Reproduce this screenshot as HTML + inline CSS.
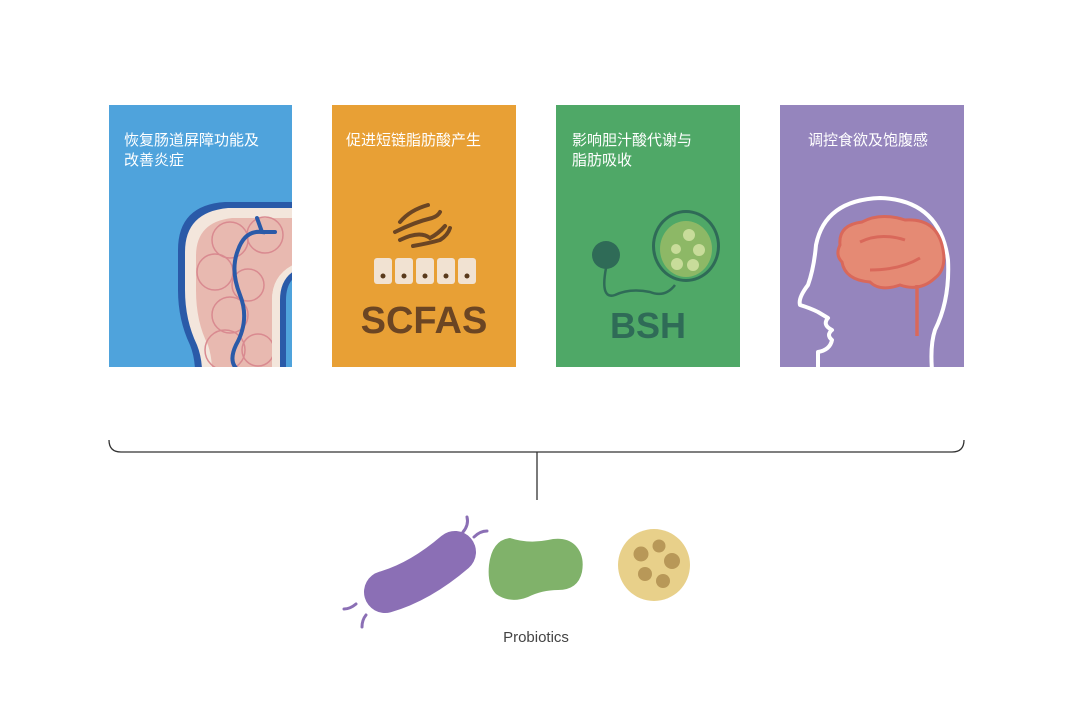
<!DOCTYPE html>
<html><head><meta charset="utf-8"><style>
body{margin:0;background:#fff;width:1080px;height:720px;overflow:hidden;font-family:"Liberation Sans","Noto Sans CJK SC",sans-serif}
svg{position:absolute;left:0;top:0}
</style></head><body>
<svg width="1080" height="720" viewBox="0 0 1080 720" xmlns="http://www.w3.org/2000/svg">
<defs>
<clipPath id="c1"><rect x="109" y="105" width="183" height="262"/></clipPath>
<clipPath id="c4"><rect x="780" y="105" width="184" height="262"/></clipPath>
</defs>
<!-- card 1 -->
<rect x="109" y="105" width="183" height="262" fill="#4fa3dc"/>
<g clip-path="url(#c1)">
<path d="M300 202 L225 202 Q178 205 178 250 L178 290 Q178 320 190 345 Q196 360 195 380 L300 380 Z" fill="#2a5aa8"/>
<path d="M300 208 L228 208 Q185 212 185 252 L185 290 Q185 320 197 345 Q203 360 202 380 L300 380 Z" fill="#f3e6dc"/>
<path d="M300 218 L232 218 Q196 222 196 256 L196 290 Q196 322 208 345 Q213 360 212 380 L272 380 L272 300 Q272 272 300 262 Z" fill="#e8b9b0"/>
<g fill="none" stroke="#d98a90" stroke-width="1.5">
<circle cx="230" cy="240" r="18"/><circle cx="265" cy="235" r="18"/><circle cx="215" cy="272" r="18"/><circle cx="248" cy="285" r="16"/><circle cx="230" cy="315" r="18"/><circle cx="225" cy="350" r="20"/><circle cx="258" cy="350" r="16"/>
</g>
<path d="M300 262 Q272 272 272 300 L272 380 L300 380 Z" fill="#f3e6dc"/>
<path d="M300 268 Q280 276 280 300 L280 380 L300 380 Z" fill="#2a5aa8"/>
<path d="M300 274 Q286 280 286 300 L286 380 L300 380 Z" fill="#4fa3dc"/>
<path d="M257 218 L262 232 Q245 230 238 250 Q230 270 240 295 Q250 320 236 345 Q228 362 238 370" fill="none" stroke="#2a5aa8" stroke-width="4" stroke-linecap="round"/>
<path d="M262 232 L275 232" stroke="#2a5aa8" stroke-width="4" stroke-linecap="round"/>
</g>
<text font-size="15" fill="#fff"><tspan x="124" y="145">恢复肠道屏障功能及</tspan><tspan x="124" y="165">改善炎症</tspan></text>
<!-- card 2 -->
<rect x="332" y="105" width="184" height="262" fill="#e8a035"/>
<text x="346" y="145" font-size="15" fill="#fff">促进短链脂肪酸产生</text>
<g fill="none" stroke="#6b4523" stroke-width="4" stroke-linecap="round">
<path d="M400 222 Q410 210 428 205"/><path d="M395 232 Q415 222 432 218 Q438 216 440 212"/><path d="M400 240 Q420 230 430 238 Q438 234 445 226"/><path d="M413 246 Q430 243 440 240 Q448 235 450 228"/>
</g>
<g fill="#f1e2d2">
<rect x="374" y="258" width="18" height="26" rx="3"/><rect x="395" y="258" width="18" height="26" rx="3"/><rect x="416" y="258" width="18" height="26" rx="3"/><rect x="437" y="258" width="18" height="26" rx="3"/><rect x="458" y="258" width="18" height="26" rx="3"/>
</g>
<g fill="#5a3a1c"><circle cx="383" cy="276" r="2.5"/><circle cx="404" cy="276" r="2.5"/><circle cx="425" cy="276" r="2.5"/><circle cx="446" cy="276" r="2.5"/><circle cx="467" cy="276" r="2.5"/></g>
<text x="424" y="333" font-size="38" font-weight="bold" fill="#6b4523" text-anchor="middle">SCFAS</text>
<!-- card 3 -->
<rect x="556" y="105" width="184" height="262" fill="#4fa867"/>
<text font-size="15" fill="#fff"><tspan x="572" y="145">影响胆汁酸代谢与</tspan><tspan x="572" y="165">脂肪吸收</tspan></text>
<circle cx="606" cy="255" r="14" fill="#2f6b57"/>
<path d="M606 268 Q600 300 615 295 Q630 288 650 292 Q665 298 675 285" fill="none" stroke="#2f6b57" stroke-width="2.5"/>
<ellipse cx="686" cy="246" rx="34" ry="36" fill="#2f6b57"/>
<ellipse cx="686" cy="246" rx="31" ry="33" fill="#4fa867"/>
<ellipse cx="686" cy="249" rx="26" ry="28" fill="#8db866"/>
<g fill="#c8dc9a"><circle cx="689" cy="235" r="6"/><circle cx="676" cy="249" r="5"/><circle cx="699" cy="250" r="6"/><circle cx="677" cy="264" r="6"/><circle cx="693" cy="265" r="6"/></g>
<text x="648" y="338" font-size="36" font-weight="bold" fill="#2f6b57" text-anchor="middle">BSH</text>
<!-- card 4 -->
<rect x="780" y="105" width="184" height="262" fill="#9585bd"/>
<text x="808" y="145" font-size="15" fill="#fff">调控食欲及饱腹感</text>
<g clip-path="url(#c4)">
<path d="M818 370 L818 352 Q830 350 832 340 Q826 335 832 330 Q822 325 828 318 L818 312 Q810 308 800 305 Q798 298 808 285 Q814 268 816 245 Q825 200 880 198 Q940 200 948 260 Q950 300 935 330 Q930 345 932 370" fill="none" stroke="#fff" stroke-width="4" stroke-linejoin="round"/>
</g>
<path d="M840 245 Q838 225 862 222 Q880 212 905 220 Q935 218 942 245 Q948 268 935 278 Q920 292 900 285 Q880 292 870 282 Q845 280 842 262 Q835 255 840 245 Z" fill="#e58a74" stroke="#d9685a" stroke-width="3"/>
<path d="M860 242 Q880 232 905 240 M870 270 Q900 270 920 258" fill="none" stroke="#d9685a" stroke-width="3"/>
<path d="M917 285 L917 336" stroke="#d9685a" stroke-width="3.5"/>
<!-- bracket -->
<path d="M109 440 Q109 452 121 452 L952 452 Q964 452 964 440" fill="none" stroke="#333" stroke-width="1.3"/>
<line x1="537" y1="452" x2="537" y2="500" stroke="#333" stroke-width="1.3"/>
<!-- bacteria -->
<path d="M385 592 Q420 582 455 552" fill="none" stroke="#8b6fb5" stroke-width="42" stroke-linecap="round"/>
<g fill="none" stroke="#8b6fb5" stroke-width="3" stroke-linecap="round">
<path d="M463 532 Q469 525 467 517"/><path d="M474 537 Q480 531 487 531"/><path d="M344 609 Q350 609 356 604"/><path d="M362 627 Q362 620 366 615"/>
</g>
<path d="M510 538 Q528 544 548 540 Q565 536 575 545 Q585 555 582 572 Q578 590 558 590 Q542 590 528 597 Q510 604 496 594 Q487 585 489 565 Q492 540 510 538 Z" fill="#80b26a"/>
<circle cx="654" cy="565" r="36" fill="#e8d08a"/>
<g fill="#b89858"><circle cx="641" cy="554" r="7.5"/><circle cx="659" cy="546" r="6.5"/><circle cx="672" cy="561" r="8"/><circle cx="645" cy="574" r="7"/><circle cx="663" cy="581" r="7"/></g>
<text x="536" y="642" font-size="15" fill="#444" text-anchor="middle">Probiotics</text>
</svg>
</body></html>
